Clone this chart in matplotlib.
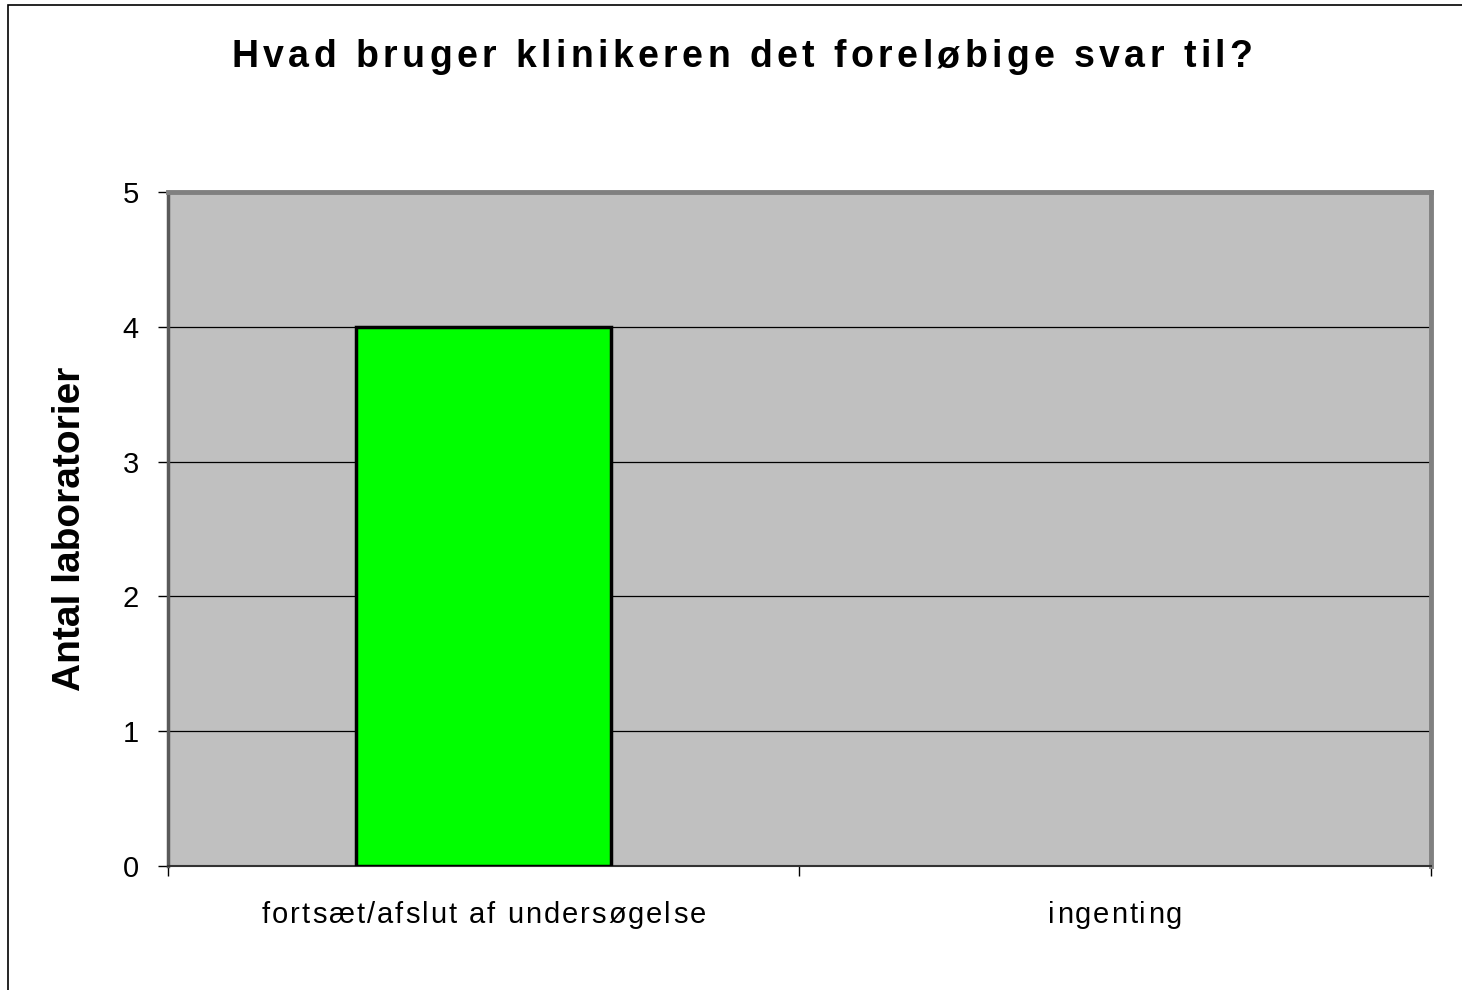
import matplotlib.pyplot as plt
from matplotlib.patches import Rectangle
from matplotlib.font_manager import FontProperties

# data
categories = ['fortsæt/afslut af undersøgelse', 'ingenting']
counts = [4, 0]
yticks = [0, 1, 2, 3, 4, 5]
title = 'Hvad bruger klinikeren det foreløbige svar til?'
ylabel = 'Antal laboratorier'

W, H = 1462, 990
plt.rcParams['font.family'] = ['Liberation Sans', 'DejaVu Sans']

fig = plt.figure(figsize=(W / 100, H / 100), dpi=100)
ax = fig.add_axes([168 / W, 1 - 866 / H, (1431 - 168) / W, (866 - 192) / H])
renderer = fig.canvas.get_renderer()


def spaced_text(xc, yc, s, size, extra, weight='normal'):
    # old Excel look: letters drawn with extra spacing, centred on (xc, yc) in pixels
    fp = FontProperties(family=['Liberation Sans', 'DejaVu Sans'], size=size, weight=weight)

    def width(t):
        return renderer.get_text_width_height_descent(t, fp, ismath=False)[0]

    ref = width('l')
    total = width(s) + extra * (len(s) - 1)
    x0 = xc - total / 2
    for i, ch in enumerate(s):
        if ch == ' ':
            continue
        adv = width(s[:i] + 'l') - ref if i else 0
        fig.text((x0 + adv + extra * i) / W, 1 - yc / H, ch, fontproperties=fp,
                 ha='left', va='center')


# frame round the whole figure
fig.patches.append(Rectangle((8 / W, -0.1), 1.2, 1.1 - 5 / H, transform=fig.transFigure,
                             fill=False, edgecolor='black', linewidth=1.2))

ax.set_facecolor('#C0C0C0')
x = list(range(len(categories)))
edges = ['black' if c > 0 else 'none' for c in counts]
ax.bar(x, counts, width=0.404, color='#00FF00', edgecolor=edges, linewidth=2.5, zorder=3)

ax.set_xlim(-0.5, len(categories) - 0.5)
ax.set_ylim(0, 5)
ax.set_yticks(yticks)
ax.set_yticklabels([str(t) for t in yticks], fontsize=21)
ax.grid(axis='y', color='black', linewidth=0.9, zorder=1)
ax.set_axisbelow(True)

ax.set_xticks(x)
ax.set_xticklabels([''] * len(categories))
ax.tick_params(axis='x', which='major', length=0)
ax.set_xticks([i - 0.5 for i in range(len(categories) + 1)], minor=True)
ax.tick_params(axis='x', which='minor', length=7, width=1, color='black')
ax.tick_params(axis='y', length=7, width=1, pad=14)

for side in ['top', 'right']:
    ax.spines[side].set_color('#808080')
    ax.spines[side].set_linewidth(3.5)
ax.spines['left'].set_color('#5a5a5a')
ax.spines['left'].set_linewidth(2.5)
ax.spines['bottom'].set_color('#333333')
ax.spines['bottom'].set_linewidth(1.5)

ax.set_ylabel(ylabel, fontsize=28, fontweight='bold')
ax.yaxis.set_label_coords(-(168 - 88) / (1431 - 168), 0.5)

# category labels under the bars
for i, name in enumerate(categories):
    xc = ax.transData.transform((i, 0))[0]
    spaced_text(xc, 915, name, 21, 2.0)

spaced_text(742, 57, title, 27, 4.4, weight='bold')

fig.savefig('out.png', dpi=100)
